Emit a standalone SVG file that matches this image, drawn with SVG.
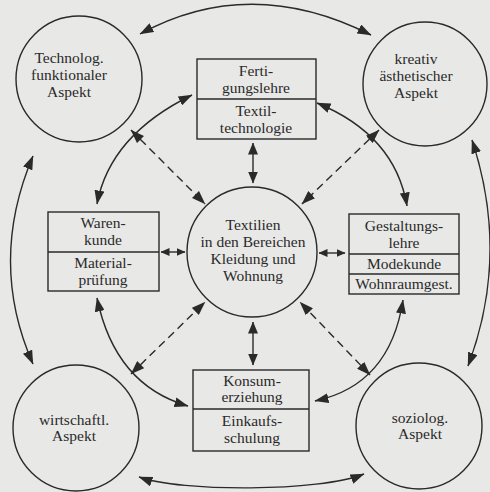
<svg xmlns="http://www.w3.org/2000/svg" width="490" height="492" viewBox="0 0 490 492">
<style>
.bg{fill:#e8e8e6}
.n{fill:none;stroke:#2a2a2a;stroke-width:1.4}
.t{font-family:"Liberation Serif","Times New Roman",serif;font-size:15.5px;fill:#2a2a2a;text-anchor:middle}
.c{fill:none;stroke:#2a2a2a;stroke-width:1.4}
.d{fill:none;stroke:#2a2a2a;stroke-width:1.4;stroke-dasharray:8 5}
</style>
<defs>
<marker id="a" viewBox="0 0 14 10" refX="13.5" refY="5" markerWidth="14" markerHeight="10" markerUnits="userSpaceOnUse" orient="auto-start-reverse">
<path d="M0,0 L14,5 L0,10 z" fill="#2a2a2a"/>
</marker>
<marker id="s" viewBox="0 0 9 8" refX="8.5" refY="4" markerWidth="9" markerHeight="8" markerUnits="userSpaceOnUse" orient="auto-start-reverse">
<path d="M0,0 L9,4 L0,8 z" fill="#2a2a2a"/>
</marker>
<marker id="m" viewBox="0 0 12 10" refX="11.5" refY="5" markerWidth="12" markerHeight="10" markerUnits="userSpaceOnUse" orient="auto-start-reverse">
<path d="M0,0 L12,5 L0,10 z" fill="#2a2a2a"/>
</marker>
</defs>
<rect class="bg" x="0" y="0" width="490" height="492"/>
<g id="connectors">
<path class="c" d="M140,34 Q250,-26 371,35" marker-start="url(#a)" marker-end="url(#a)"/>
<path class="c" d="M33,156 Q-12,262 33,364" marker-start="url(#a)" marker-end="url(#a)"/>
<path class="c" d="M472,140 Q510,255 468,366" marker-start="url(#a)" marker-end="url(#a)"/>
<path class="c" d="M139,477 C180,492 320,492 364,474" marker-start="url(#a)" marker-end="url(#a)"/>
<path class="c" d="M192,95 Q110,135 97,204" marker-start="url(#a)" marker-end="url(#a)"/>
<path class="c" d="M317,103 Q395,135 407,206" marker-start="url(#a)" marker-end="url(#a)"/>
<path class="c" d="M97,298 Q115,385 188,406" marker-start="url(#a)" marker-end="url(#a)"/>
<path class="c" d="M403,300 Q390,385 315,401" marker-start="url(#a)" marker-end="url(#a)"/>
<path class="c" d="M253,143 L253,183" marker-start="url(#m)" marker-end="url(#m)"/>
<path class="c" d="M253,322 L253,365" marker-start="url(#m)" marker-end="url(#m)"/>
<path class="c" d="M161,252 L185,252" marker-start="url(#s)" marker-end="url(#s)"/>
<path class="c" d="M319,253 L345,253" marker-start="url(#s)" marker-end="url(#s)"/>
<path class="d" d="M131,130 L205,204" marker-start="url(#a)" marker-end="url(#a)"/>
<path class="d" d="M379,130 L302,204" marker-start="url(#a)" marker-end="url(#a)"/>
<path class="d" d="M131,374 L205,302" marker-start="url(#a)" marker-end="url(#a)"/>
<path class="d" d="M370,375 L300,302" marker-start="url(#a)" marker-end="url(#a)"/>
</g>
<g id="technolog">
<circle class="n" cx="79" cy="79" r="63"/>
<text class="t" x="69" y="63">Technolog.</text>
<text class="t" x="69" y="80">funktionaler</text>
<text class="t" x="69" y="97">Aspekt</text>
</g>
<g id="kreativ">
<circle class="n" cx="425" cy="84" r="62"/>
<text class="t" x="416" y="64">kreativ</text>
<text class="t" x="416" y="81">ästhetischer</text>
<text class="t" x="416" y="98">Aspekt</text>
</g>
<g id="wirtschaftl">
<circle class="n" cx="76" cy="428" r="63"/>
<text class="t" x="74" y="425">wirtschaftl.</text>
<text class="t" x="74" y="441">Aspekt</text>
</g>
<g id="soziolog">
<circle class="n" cx="419" cy="426" r="63"/>
<text class="t" x="420" y="423">soziolog.</text>
<text class="t" x="420" y="439">Aspekt</text>
</g>
<g id="textilien">
<circle class="n" cx="252" cy="252" r="65"/>
<text class="t" x="253" y="230">Textilien</text>
<text class="t" x="253" y="247">in den Bereichen</text>
<text class="t" x="253" y="264">Kleidung und</text>
<text class="t" x="253" y="281">Wohnung</text>
</g>
<g id="fertigung">
<rect class="n" x="197" y="59" width="119" height="80"/>
<line class="n" x1="197" y1="99" x2="316" y2="99"/>
<text class="t" x="256" y="76">Ferti-</text>
<text class="t" x="256" y="93">gungslehre</text>
<text class="t" x="256" y="116">Textil-</text>
<text class="t" x="256" y="133">technologie</text>
</g>
<g id="warenkunde">
<rect class="n" x="48" y="212" width="111" height="79"/>
<line class="n" x1="48" y1="252" x2="159" y2="252"/>
<text class="t" x="103" y="228">Waren-</text>
<text class="t" x="103" y="245">kunde</text>
<text class="t" x="103" y="268">Material-</text>
<text class="t" x="103" y="285">prüfung</text>
</g>
<g id="gestaltung">
<rect class="n" x="349" y="214" width="110" height="80"/>
<line class="n" x1="349" y1="254" x2="459" y2="254"/>
<line class="n" x1="349" y1="274" x2="459" y2="274"/>
<text class="t" x="404" y="231">Gestaltungs-</text>
<text class="t" x="404" y="248">lehre</text>
<text class="t" x="404" y="269">Modekunde</text>
<text class="t" x="404" y="289">Wohnraumgest.</text>
</g>
<g id="konsum">
<rect class="n" x="193" y="370" width="116" height="81"/>
<line class="n" x1="193" y1="409" x2="309" y2="409"/>
<text class="t" x="252" y="386">Konsum-</text>
<text class="t" x="252" y="402">erziehung</text>
<text class="t" x="252" y="426">Einkaufs-</text>
<text class="t" x="252" y="443">schulung</text>
</g>
</svg>
